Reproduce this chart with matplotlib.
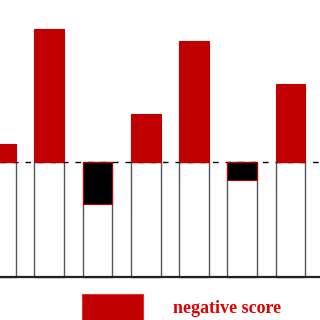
import matplotlib
matplotlib.use("Agg")
import matplotlib.pyplot as plt
from matplotlib.patches import Rectangle

positions = [0, 1, 2, 3, 4, 5, 6]
scores = [0.16, 1.166, -0.362, 0.424, 1.061, -0.153, 0.686]
legend_label = "negative score"

fig = plt.figure(figsize=(3.2, 3.2), dpi=100)
ax = fig.add_axes([0, 0, 1, 1])
ax.set_xlim(-0.0207, 6.611)
ax.set_ylim(-1.3755, 1.419)
ax.axis("off")

width = 0.62
red = "#C00000"
# white base bars
ax.bar(positions, [1] * len(positions), bottom=-1, width=width,
       color="white", edgecolor="#555555", linewidth=1.0, zorder=1)
ax.axhline(0, color="black", linestyle=(0, (4, 5)), linewidth=1.0, zorder=2)
for x, s in zip(positions, scores):
    if s >= 0:
        ax.bar(x, s, bottom=0, width=width, color=red, edgecolor=red,
               linewidth=0.8, zorder=3)
    else:
        ax.bar(x, s, bottom=0, width=width, color="black", edgecolor=red,
               linewidth=0.8, zorder=3)
ax.axhline(-1, color="#222222", linewidth=1.6, zorder=4)

# legend
fig.patches.append(Rectangle((82 / 320, 0), 61 / 320, (320 - 294) / 320,
                             transform=fig.transFigure, facecolor=red,
                             edgecolor="#E03030", linewidth=0.8))
fig.text(173 / 320, 1 - 313 / 320, legend_label, color="#E00000",
         fontsize=13, fontweight="bold", family="Liberation Serif",
         ha="left", va="baseline")

fig.savefig("out.png", dpi=100)
